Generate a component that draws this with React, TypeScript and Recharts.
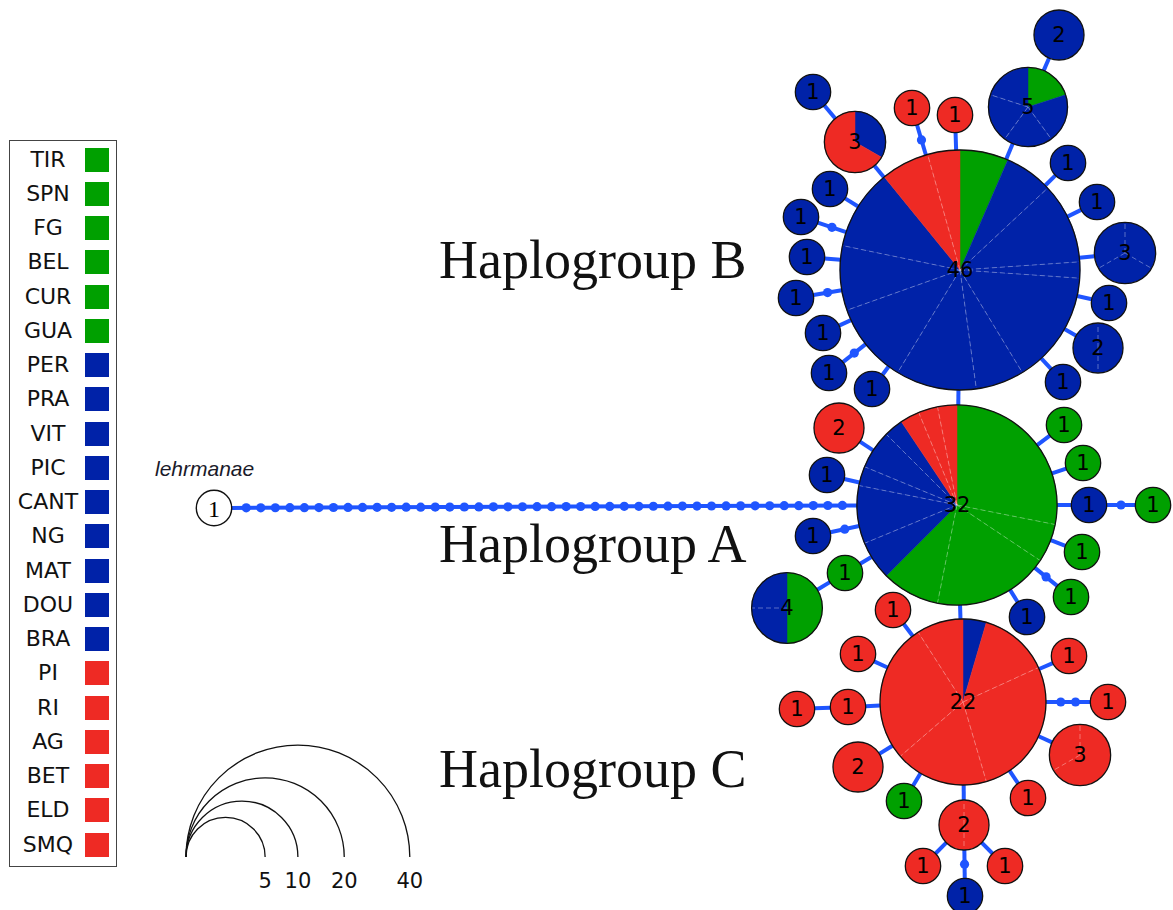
import React from 'react';
import { ScatterChart, Scatter, XAxis, YAxis, ZAxis, ReferenceLine } from 'recharts';

const W = 1173;
const H = 910;
const N_MAX = 46;
const R_MAX = 120;
const AREA_MAX = Math.PI * R_MAX * R_MAX;
const rOf = (n: number) => R_MAX * Math.sqrt(n / N_MAX);

const COLORS: Record<string, string> = { G: '#00A000', B: '#0022A8', R: '#EE2A24' };
const EDGE = '#1F55FF';

// legend
const populations = ['TIR', 'SPN', 'FG', 'BEL', 'CUR', 'GUA', 'PER', 'PRA', 'VIT', 'PIC', 'CANT', 'NG', 'MAT', 'DOU', 'BRA', 'PI', 'RI', 'AG', 'BET', 'ELD', 'SMQ'];
const populationGroups = ['G', 'G', 'G', 'G', 'G', 'G', 'B', 'B', 'B', 'B', 'B', 'B', 'B', 'B', 'B', 'R', 'R', 'R', 'R', 'R', 'R'];

// haplotypes: position in network layout, sample count, composition (clockwise from top)
const haplogroupB = [
  { id: 'B46', x: 960, y: 270, n: 46, parts: 'G3 B3 B5 B1 B7 B3 B5 B5 B4 B5 R3 R2' },
  { id: 'B5', x: 1028, y: 107, n: 5, parts: 'G1 B1 B1 B1 B1' },
  { id: 'B2a', x: 1059, y: 35, n: 2, parts: 'B2' },
  { id: 'B3rb', x: 855, y: 142, n: 3, parts: 'B1 R2' },
  { id: 'B1a', x: 813, y: 92, n: 1, parts: 'B1' },
  { id: 'R1a', x: 912, y: 108, n: 1, parts: 'R1' },
  { id: 'R1b', x: 955, y: 115, n: 1, parts: 'R1' },
  { id: 'B1c', x: 1068, y: 163, n: 1, parts: 'B1' },
  { id: 'B1d', x: 1097, y: 202, n: 1, parts: 'B1' },
  { id: 'B3', x: 1125, y: 253, n: 3, parts: 'B1 B1 B1' },
  { id: 'B1e', x: 1109, y: 303, n: 1, parts: 'B1' },
  { id: 'B2r', x: 1098, y: 348, n: 2, parts: 'B1 B1' },
  { id: 'B1f', x: 1063, y: 382, n: 1, parts: 'B1' },
  { id: 'B1g', x: 872, y: 389, n: 1, parts: 'B1' },
  { id: 'B1h', x: 830, y: 189, n: 1, parts: 'B1' },
  { id: 'B1i', x: 801, y: 217, n: 1, parts: 'B1' },
  { id: 'B1j', x: 807, y: 257, n: 1, parts: 'B1' },
  { id: 'B1k', x: 796, y: 298, n: 1, parts: 'B1' },
  { id: 'B1l', x: 823, y: 333, n: 1, parts: 'B1' },
  { id: 'B1m', x: 829, y: 373, n: 1, parts: 'B1' },
];

const haplogroupA = [
  { id: 'A32', x: 957, y: 505, n: 32, parts: 'G9 G2 G6 G3 B2 B3 B1 B2 B1 R1 R1 R1' },
  { id: 'A2r', x: 839, y: 428, n: 2, parts: 'R2' },
  { id: 'A1b1', x: 827, y: 475, n: 1, parts: 'B1' },
  { id: 'A1b2', x: 813, y: 536, n: 1, parts: 'B1' },
  { id: 'A1g1', x: 845, y: 573, n: 1, parts: 'G1' },
  { id: 'A4', x: 787, y: 608, n: 4, parts: 'G2 B1 B1' },
  { id: 'A1g2', x: 1064, y: 425, n: 1, parts: 'G1' },
  { id: 'A1g3', x: 1083, y: 463, n: 1, parts: 'G1' },
  { id: 'A1b3', x: 1089, y: 505, n: 1, parts: 'B1' },
  { id: 'A1g4', x: 1153, y: 505, n: 1, parts: 'G1' },
  { id: 'A1g5', x: 1082, y: 552, n: 1, parts: 'G1' },
  { id: 'A1g6', x: 1071, y: 597, n: 1, parts: 'G1' },
  { id: 'A1b4', x: 1027, y: 617, n: 1, parts: 'B1' },
];

const haplogroupC = [
  { id: 'C22', x: 963, y: 702, n: 22, parts: 'B1 R3 R6 R4 R6 R2' },
  { id: 'C1a', x: 893, y: 610, n: 1, parts: 'R1' },
  { id: 'C1b', x: 858, y: 654, n: 1, parts: 'R1' },
  { id: 'C1c', x: 848, y: 707, n: 1, parts: 'R1' },
  { id: 'C1d', x: 797, y: 709, n: 1, parts: 'R1' },
  { id: 'C2a', x: 858, y: 767, n: 2, parts: 'R2' },
  { id: 'C1g', x: 904, y: 801, n: 1, parts: 'G1' },
  { id: 'C2b', x: 964, y: 825, n: 2, parts: 'R1 R1' },
  { id: 'C1e', x: 923, y: 866, n: 1, parts: 'R1' },
  { id: 'C1f', x: 1005, y: 866, n: 1, parts: 'R1' },
  { id: 'C1bl', x: 965, y: 896, n: 1, parts: 'B1' },
  { id: 'C1h', x: 1028, y: 798, n: 1, parts: 'R1' },
  { id: 'C3', x: 1080, y: 755, n: 3, parts: 'R2 R1' },
  { id: 'C1i', x: 1108, y: 702, n: 1, parts: 'R1' },
  { id: 'C1j', x: 1069, y: 656, n: 1, parts: 'R1' },
];

const outgroup = [{ id: 'OUT', name: 'lehrmanae', x: 214, y: 508, n: 1 }];

// edges: [from, to, mutation steps shown as dots]
const edges: [string, string, number][] = [
  ['B46', 'B5', 0], ['B5', 'B2a', 0], ['B46', 'B3rb', 0], ['B3rb', 'B1a', 0],
  ['B46', 'R1a', 1], ['B46', 'R1b', 0], ['B46', 'B1c', 0], ['B46', 'B1d', 0],
  ['B46', 'B3', 0], ['B46', 'B1e', 0], ['B46', 'B2r', 0], ['B46', 'B1f', 0],
  ['B46', 'B1g', 0], ['B46', 'B1h', 0], ['B46', 'B1i', 1], ['B46', 'B1j', 0],
  ['B46', 'B1k', 1], ['B46', 'B1l', 0], ['B46', 'B1m', 1], ['B46', 'A32', 0],
  ['A32', 'A2r', 0], ['A32', 'A1b1', 0], ['A32', 'A1b2', 1], ['A32', 'A1g1', 0],
  ['A1g1', 'A4', 0], ['A32', 'A1g2', 0], ['A32', 'A1g3', 0], ['A32', 'A1b3', 0],
  ['A1b3', 'A1g4', 1], ['A32', 'A1g5', 0], ['A32', 'A1g6', 1], ['A32', 'A1b4', 0],
  ['A32', 'C22', 0], ['OUT', 'A32', 42],
  ['C22', 'C1a', 0], ['C22', 'C1b', 0], ['C22', 'C1c', 0], ['C1c', 'C1d', 0],
  ['C22', 'C2a', 0], ['C22', 'C1g', 0], ['C22', 'C2b', 0], ['C2b', 'C1e', 0],
  ['C2b', 'C1f', 0], ['C2b', 'C1bl', 1], ['C22', 'C1h', 0], ['C22', 'C3', 0],
  ['C22', 'C1i', 2], ['C22', 'C1j', 0],
];

const scaleSizes = [5, 10, 20, 40];
const scaleAnchor = { x: 186, y: 857 };

const groupLabels = [
  { name: 'Haplogroup B', x: 439, y: 278, n: 1 },
  { name: 'Haplogroup A', x: 439, y: 562, n: 1 },
  { name: 'Haplogroup C', x: 439, y: 787, n: 1 },
];

const allNodes = [...haplogroupB, ...haplogroupA, ...haplogroupC, ...outgroup];
const nodeById: Record<string, any> = {};
allNodes.forEach((d) => { nodeById[d.id] = d; });

const scaleData = scaleSizes.map((s) => ({ x: scaleAnchor.x, y: scaleAnchor.y, n: s }));

const parseParts = (s: string) => s.split(' ').map((t) => ({ c: t[0], k: Number(t.slice(1)) }));

const pt = (cx: number, cy: number, r: number, a: number) => [cx + r * Math.sin(a), cy - r * Math.cos(a)];

function NodeShape(props: any) {
  const { cx, cy, width, payload } = props;
  const r = width / 2;
  const parts = parseParts(payload.parts);
  const total = parts.reduce((a, p) => a + p.k, 0);
  const starts: number[] = [];
  let acc = 0;
  parts.forEach((p) => { starts.push((acc / total) * Math.PI * 2); acc += p.k; });
  const colorsUsed = new Set(parts.map((p) => p.c));
  const fills: React.ReactNode[] = [];
  if (colorsUsed.size === 1) {
    fills.push(<circle key="f" cx={cx} cy={cy} r={r} fill={COLORS[parts[0].c]} />);
  } else {
    parts.forEach((p, i) => {
      const a0 = starts[i];
      const a1 = i + 1 < parts.length ? starts[i + 1] : Math.PI * 2;
      const [x0, y0] = pt(cx, cy, r, a0);
      const [x1, y1] = pt(cx, cy, r, a1);
      const large = a1 - a0 > Math.PI ? 1 : 0;
      fills.push(
        <path key={'s' + i} d={`M${cx},${cy} L${x0},${y0} A${r},${r} 0 ${large} 1 ${x1},${y1} Z`} fill={COLORS[p.c]} stroke={COLORS[p.c]} strokeWidth={0.5} />
      );
    });
  }
  const seps: React.ReactNode[] = [];
  if (parts.length > 1) {
    parts.forEach((p, i) => {
      const prev = parts[(i - 1 + parts.length) % parts.length];
      if (prev.c === p.c) {
        const [x1, y1] = pt(cx, cy, r, starts[i]);
        seps.push(<line key={'d' + i} x1={cx} y1={cy} x2={x1} y2={y1} stroke="#ffffff" strokeOpacity={0.35} strokeWidth={1} strokeDasharray="5 3" />);
      }
    });
  }
  return (
    <g>
      {fills}
      {seps}
      <circle cx={cx} cy={cy} r={r} fill="none" stroke="#111" strokeWidth={1.3} />
      <text x={cx} y={cy} textAnchor="middle" dominantBaseline="central" fontFamily="DejaVu Sans, Verdana, sans-serif" fontSize={21} fill="#000">
        {payload.n}
      </text>
    </g>
  );
}

function OutgroupShape(props: any) {
  const { cx, cy, width, payload } = props;
  const r = width / 2;
  return (
    <g>
      <circle cx={cx} cy={cy} r={r} fill="#fff" stroke="#111" strokeWidth={1.4} />
      <text x={cx} y={cy + 1} textAnchor="middle" dominantBaseline="central" fontFamily="Liberation Serif, serif" fontSize={24} fill="#000">
        {payload.n}
      </text>
      <text x={cx - 59} y={cy - 32} fontFamily="Liberation Sans, Arial, sans-serif" fontStyle="italic" fontSize={21} fill="#1a1a2a">
        {payload.name}
      </text>
    </g>
  );
}

function ScaleShape(props: any) {
  const { cx, cy, width, payload } = props;
  const r = width / 2;
  return (
    <g>
      <path d={`M${cx},${cy} A${r},${r} 0 0 1 ${cx + 2 * r},${cy}`} fill="none" stroke="#111" strokeWidth={1.3} />
      <text x={cx + 2 * r} y={cy + 31} textAnchor="middle" fontFamily="DejaVu Sans, Verdana, sans-serif" fontSize={21} fill="#111">
        {payload.n}
      </text>
    </g>
  );
}

function LabelShape(props: any) {
  const { cx, cy, payload } = props;
  return (
    <text x={cx} y={cy} fontFamily="Liberation Serif, Times New Roman, serif" fontSize={54} fill="#111">
      {payload.name}
    </text>
  );
}

function makeEdgeShape(from: any, to: any, steps: number) {
  return (p: any) => {
    const { x1, y1, x2, y2 } = p;
    const dx = x2 - x1;
    const dy = y2 - y1;
    const dist = Math.sqrt(dx * dx + dy * dy) || 1;
    const ux = dx / dist;
    const uy = dy / dist;
    const r1 = rOf(from.n);
    const r2 = rOf(to.n);
    const sx = x1 + ux * r1;
    const sy = y1 + uy * r1;
    const ex = x2 - ux * r2;
    const ey = y2 - uy * r2;
    const gap = dist - r1 - r2;
    const dots: React.ReactNode[] = [];
    for (let i = 1; i <= steps; i++) {
      const t = r1 + (gap * i) / (steps + 1);
      dots.push(<circle key={i} cx={x1 + ux * t} cy={y1 + uy * t} r={4.6} fill={EDGE} />);
    }
    return (
      <g>
        <line x1={sx} y1={sy} x2={ex} y2={ey} stroke={EDGE} strokeWidth={4} />
        {dots}
      </g>
    );
  };
}

export default function App() {
  return (
    <div style={{ position: 'absolute', left: 0, top: 0, width: W, height: H, background: '#fff', overflow: 'hidden' }}>
      <ScatterChart width={W} height={H} margin={{ top: 0, right: 0, bottom: 0, left: 0 }}>
        <XAxis type="number" dataKey="x" domain={[0, W]} hide allowDataOverflow />
        <YAxis type="number" dataKey="y" domain={[0, H]} hide reversed allowDataOverflow />
        <ZAxis type="number" dataKey="n" domain={[0, N_MAX]} range={[0, AREA_MAX]} />
        {edges.map(([a, b, s], i) => {
          const A = nodeById[a];
          const B = nodeById[b];
          return (
            <ReferenceLine
              key={'e' + i}
              segment={[{ x: A.x, y: A.y }, { x: B.x, y: B.y }]}
              ifOverflow="visible"
              shape={makeEdgeShape(A, B, s)}
            />
          );
        })}
        <Scatter data={haplogroupB} shape={(p: any) => <NodeShape {...p} />} isAnimationActive={false} />
        <Scatter data={haplogroupA} shape={(p: any) => <NodeShape {...p} />} isAnimationActive={false} />
        <Scatter data={haplogroupC} shape={(p: any) => <NodeShape {...p} />} isAnimationActive={false} />
        <Scatter data={outgroup} shape={(p: any) => <OutgroupShape {...p} />} isAnimationActive={false} />
        <Scatter data={scaleData} shape={(p: any) => <ScaleShape {...p} />} isAnimationActive={false} />
        <Scatter data={groupLabels} shape={(p: any) => <LabelShape {...p} />} isAnimationActive={false} />
      </ScatterChart>
      <div
        style={{
          position: 'absolute', left: 9, top: 140, width: 108, height: 727,
          border: '1.5px solid #444', boxSizing: 'border-box', background: '#fff',
        }}
      >
        {populations.map((p, i) => (
          <div key={p} style={{ position: 'absolute', left: 0, top: 6.5 + i * 34.25, height: 24, width: 104 }}>
            <span
              style={{
                position: 'absolute', left: 0, width: 76, textAlign: 'center', lineHeight: '24px',
                fontFamily: 'DejaVu Sans, Verdana, sans-serif', fontSize: 22, color: '#111',
              }}
            >
              {p}
            </span>
            <span style={{ position: 'absolute', left: 74.5, top: 0, width: 24, height: 24, background: COLORS[populationGroups[i]] }} />
          </div>
        ))}
      </div>
    </div>
  );
}
